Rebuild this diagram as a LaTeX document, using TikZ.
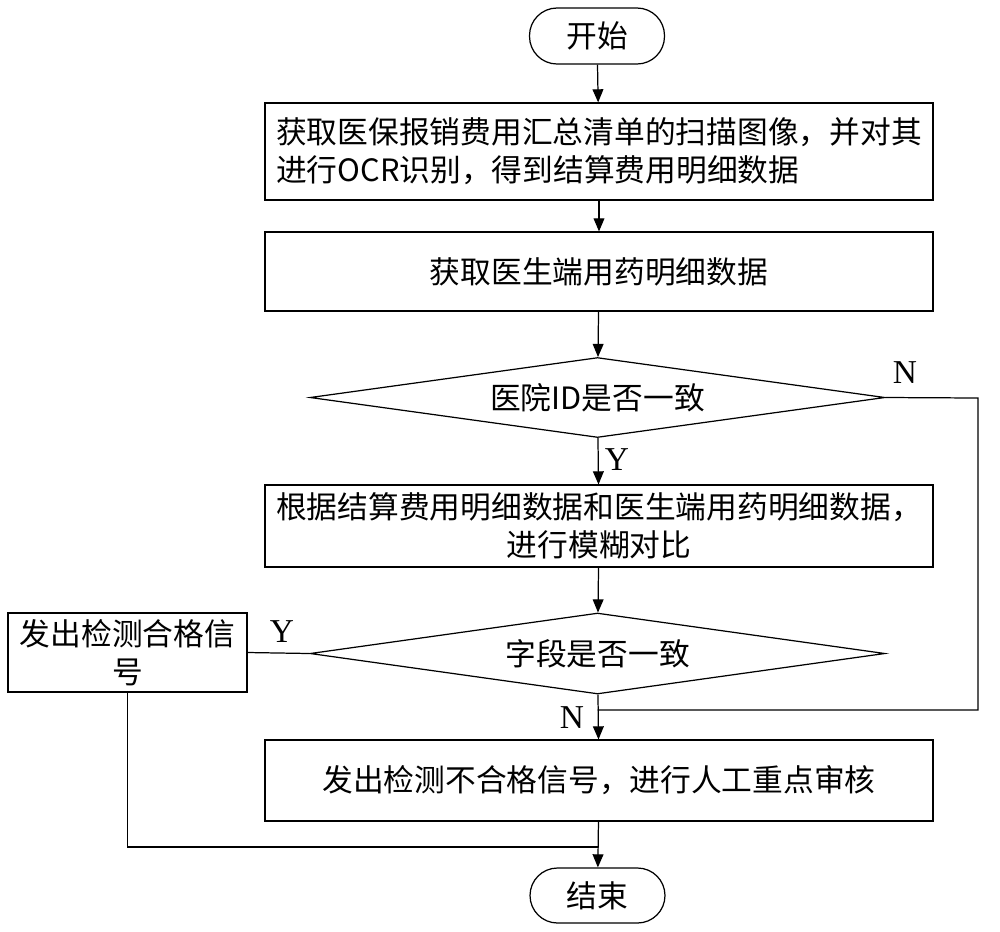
\documentclass[tikz,border=0pt]{standalone}
\usepackage{fontspec}
\setmainfont{Noto Sans CJK SC}
\newfontfamily\lblfont{Liberation Serif}
\usetikzlibrary{arrows,shapes.geometric,positioning}

\begin{document}
\begin{tikzpicture}[x=0.02cm,y=-0.02cm,>=triangle 45,
		every path/.style={line width=0.7pt},
		every node/.style={font=\fontsize{17.5pt}{21.6pt}\selectfont},
		term/.style={draw,rectangle,rounded corners=0.55cm,minimum width=2.7cm,minimum height=1.12cm},
		procbox/.style={draw,rectangle,minimum width=13.36cm,inner sep=2pt},
		decide/.style={draw,diamond,aspect=7.2,minimum width=11.5cm,minimum height=1.6cm,inner sep=0pt},
		lbl/.style={font=\lblfont\fontsize{19pt}{22pt}\selectfont}]
	\useasboundingbox (0,0) rectangle (1000,931);

	% main column
	\node[term] (start) at (597,36) {开始};
	\node[procbox,minimum height=1.94cm,align=left] (scan) at (599,151.5) {获取医保报销费用汇总清单的扫描图像，并对其\\进行OCR识别，得到结算费用明细数据};
	\node[procbox,minimum height=1.58cm] (doctor) at (599,271.5) {获取医生端用药明细数据};
	\node[decide] (hosp) at (597.5,397.5) {医院ID是否一致};
	\node[procbox,minimum height=1.64cm,align=center] (fuzzy) at (599,526) {根据结算费用明细数据和医生端用药明细数据，\\进行模糊对比};
	\node[decide,minimum height=1.62cm] (field) at (597.5,653.5) {字段是否一致};
	\node[procbox,minimum height=1.62cm] (fail) at (599,780.5) {发出检测不合格信号，进行人工重点审核};
	\node[term,minimum height=1.1cm] (stop) at (597.5,895.5) {结束};

	% side box
	\node[draw,rectangle,minimum width=4.78cm,minimum height=1.58cm,align=center,inner sep=2pt] (pass) at (127.5,652.5) {发出检测合格信\\号};

	\coordinate (hospr) at (978,398);
	\coordinate (nojoin) at (597.5,710);
	\coordinate (passj) at (597.5,847);

	\draw[->] (start) -- (scan);
	\draw[->] (scan) -- (doctor);
	\draw[->] (doctor) -- (hosp);
	\draw[->] (hosp) -- (fuzzy);
	\draw[->] (fuzzy) -- (field);
	\draw[->] (field) -- (fail);
	\draw[->] (fail) -- (stop);
	\draw (hosp.east) -- (hospr) |- (nojoin);
	\draw (field.west) -- (pass.east);
	\draw (pass.south) |- (passj);

	\node[lbl] (hospn) at (905,373) {N};
	\node[lbl] (hospy) at (617,460) {Y};
	\node[lbl] (fieldy) at (282,632) {Y};
	\node[lbl] (fieldn) at (572,718) {N};
\end{tikzpicture}
\end{document}
